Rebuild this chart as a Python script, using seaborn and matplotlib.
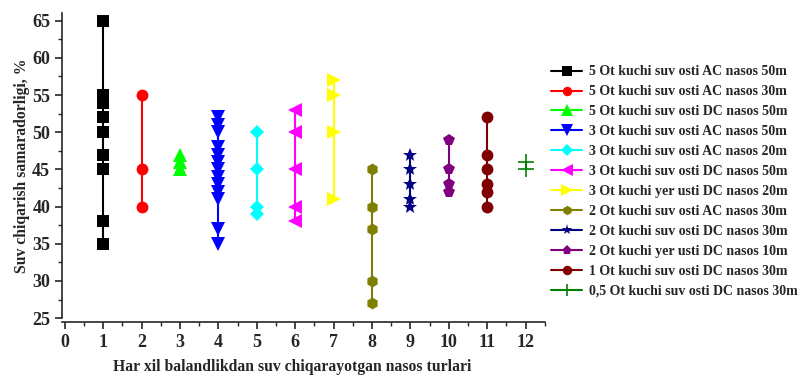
import numpy as np
import pandas as pd
import seaborn as sns
import matplotlib.pyplot as plt
from matplotlib.ticker import MultipleLocator

# pump types and measured efficiency values (%)
labels = ["5 Ot kuchi suv osti AC nasos 50m",
          "5 Ot kuchi suv osti AC nasos 30m",
          "5 Ot kuchi suv osti DC nasos 50m",
          "3 Ot kuchi suv osti AC nasos 50m",
          "3 Ot kuchi suv osti AC nasos 20m",
          "3 Ot kuchi suv osti DC nasos 50m",
          "3 Ot kuchi yer usti DC nasos 20m",
          "2 Ot kuchi suv osti AC nasos 30m",
          "2 Ot kuchi suv osti DC nasos 30m",
          "2 Ot kuchi yer usti DC nasos 10m",
          "1 Ot kuchi suv osti DC nasos 30m",
          "0,5 Ot kuchi suv osti DC nasos 30m"]
xpos = [1, 2, 3, 4, 5, 6, 7, 8, 9, 10, 11, 12]
s1 = [65, 55, 54, 52, 50, 47, 45, 38, 35]
s2 = [55, 45, 40]
s3 = [47, 46, 45]
s4 = [52, 51, 50, 48, 47, 46, 45, 44, 43, 42, 41, 37, 35]
s5 = [50, 45, 40, 39]
s6 = [53, 50, 45, 40, 38]
s7 = [57, 55, 50, 41]
s8 = [45, 40, 37, 30, 27]
s9 = [47, 45, 43, 41, 40]
s10 = [49, 45, 43, 42]
s11 = [52, 47, 45, 43, 42, 40]
s12 = [46, 45]
values = [s1, s2, s3, s4, s5, s6, s7, s8, s9, s10, s11, s12]

colors = ["#000000", "#FF0000", "#00FF00", "#0000FF", "#00FFFF", "#FF00FF",
          "#FFFF00", "#808000", "#000080", "#800080", "#800000", "#008000"]
marks = ["s", "o", "^", "v", "D", "<", ">", "h", "*", "p", "o", "+"]

sns.set_style("ticks")
plt.rcParams['font.family'] = ['Liberation Serif', 'DejaVu Serif']
plt.rcParams['font.weight'] = 'bold'

fig = plt.figure(figsize=(8, 3.76), dpi=100)
ax = fig.add_axes([0.0775, 0.154, 0.6035, 0.8106])

for lab, x, vals, c, m in zip(labels, xpos, values, colors, marks):
    d = pd.DataFrame({"x": [x] * len(vals), "y": vals})
    if m == "+":
        sns.lineplot(data=d, x="x", y="y", color=c, marker=m, markersize=11,
                     markeredgewidth=1.2, markeredgecolor=c, linewidth=1.5,
                     estimator=None, label=lab, ax=ax)
    else:
        sz = 10 if m in ("*", "^", "v", "<", ">") else 8.5
        if m == "D":
            sz = 7.5
        sns.lineplot(data=d, x="x", y="y", color=c, marker=m, markersize=sz,
                     markeredgewidth=0, linewidth=1.5, estimator=None,
                     label=lab, ax=ax)

ax.set_xlim(-0.07, 12.5)
ax.set_ylim(25, 66)
ax.xaxis.set_major_locator(MultipleLocator(1))
ax.xaxis.set_minor_locator(MultipleLocator(0.5))
ax.yaxis.set_major_locator(MultipleLocator(5))
ax.yaxis.set_minor_locator(MultipleLocator(2.5))
ax.tick_params(which='major', length=5, width=1.2, labelsize=13, direction='out')
ax.tick_params(which='minor', length=3, width=1.0, direction='out')
for t in ax.get_xticklabels() + ax.get_yticklabels():
    t.set_fontweight('bold')

ax.spines['top'].set_visible(False)
ax.spines['right'].set_visible(False)
ax.spines['bottom'].set_position(('outward', 3))
ax.spines['left'].set_linewidth(1.2)
ax.spines['bottom'].set_linewidth(1.2)
ax.spines['left'].set_bounds(25, 66)

ax.set_xlabel("Har xil balandlikdan suv chiqarayotgan nasos turlari",
              fontsize=11.3, fontweight='bold')
ax.set_ylabel("Suv chiqarish samaradorligi, %", fontsize=11.3, fontweight='bold')
ax.xaxis.set_label_coords(0.476, -0.133)
ax.yaxis.set_label_coords(-0.066, 0.5)

handles, labs = ax.get_legend_handles_labels()
ax.legend(handles, labs, loc='upper left', bbox_to_anchor=(0.689, 0.826),
          bbox_transform=fig.transFigure, frameon=False, markerscale=0.8,
          handlelength=2.25, handletextpad=0.45, labelspacing=0.5,
          borderpad=0, borderaxespad=0, prop={'weight': 'bold', 'size': 10})

plt.savefig("out.png", dpi=100)
